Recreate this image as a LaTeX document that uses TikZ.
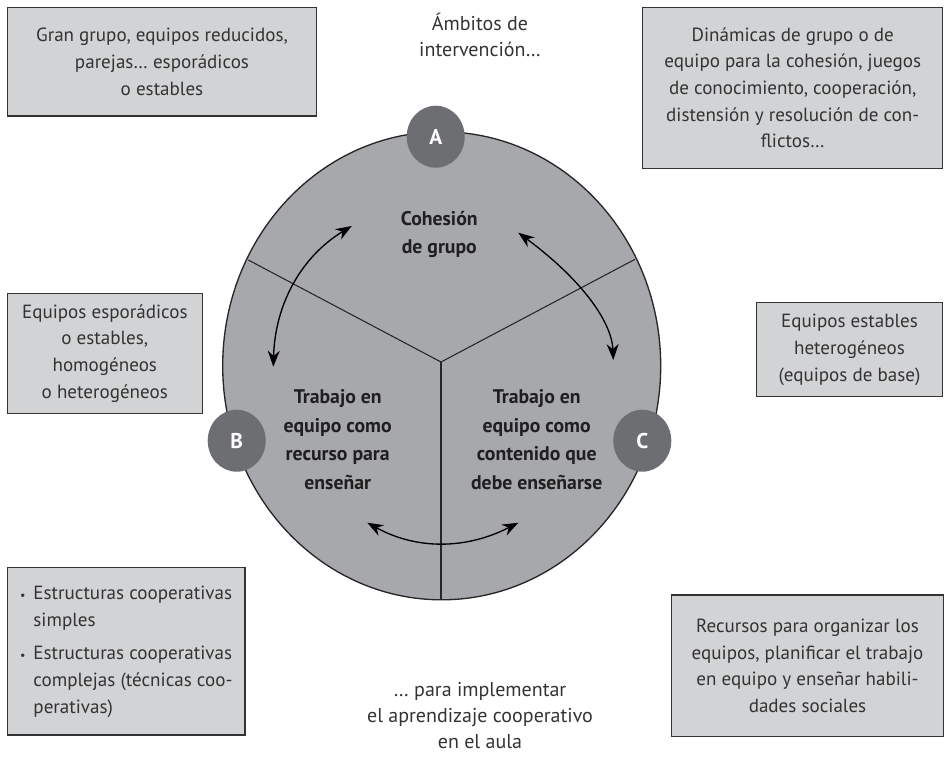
\documentclass[tikz,border=0pt]{standalone}
\usepackage{fontspec}
\setmainfont{PT Sans}
\usetikzlibrary{shapes.geometric, arrows.meta, positioning}
\definecolor{boxgray}{RGB}{210,211,213}
\definecolor{wheelgray}{RGB}{167,168,171}
\definecolor{dotgray}{RGB}{109,110,114}
\definecolor{inkgray}{RGB}{51,51,51}
\tikzset{
    infobox/.style={
        draw=inkgray, line width=0.9pt, rectangle, fill=boxgray, align=center, text=inkgray, inner sep=0pt, font=\fontsize{14.3}{20}\selectfont
    },
    letter/.style={
        ellipse, fill=dotgray, text=white, inner sep=0pt, minimum width=43.5pt, minimum height=46.5pt, font=\bfseries\fontsize{16}{18}\selectfont
    },
    sector/.style={
        align=center, text=black!88, font=\bfseries\fontsize{14.8}{21.3}\selectfont
    },
    caption/.style={
        align=center, text=inkgray, font=\fontsize{15}{19.5}\selectfont
    },
    wheel/.style={
        draw=black!85, line width=1pt, fill=wheelgray
    },
    divider/.style={
        draw=black!85, line width=0.8pt
    },
    arrow/.style={
        line width=1pt, {Stealth[length=12pt,width=9pt]}-{Stealth[length=12pt,width=9pt]}
    }
}

\begin{document}
\begin{tikzpicture}[x=0.75pt, y=-0.75pt]
    \useasboundingbox (0,0) rectangle (945,769);

    % wheel
    \draw[wheel] (441.7,365.8) ellipse [x radius=219, y radius=234];
    \coordinate (hub) at (441,362);
    \coordinate (rimL) at (248.3,260);
    \coordinate (rimR) at (635,259.3);
    \coordinate (rimD) at (441,600);
    \draw[divider] (rimL) -- (hub) -- (rimR);
    \draw[divider] (hub) -- (rimD);

    % letters
    \node (A) [letter] at (435.7,136.7) {A};
    \node (B) [letter] at (236.7,440.7) {B};
    \node (C) [letter] at (642.3,440.7) {C};

    % sectors
    \node (cohesion) [sector] at (439.3,234.2) {Cohesión\\de grupo};
    \node (recurso) [sector] at (337.7,439.7) {Trabajo en\\equipo como\\recurso para\\enseñar};
    \node (contenido) [sector] at (536.7,439.7) {Trabajo en\\equipo como\\contenido que\\debe enseñarse};

    % boxes
    \node (grupos) [infobox, minimum width=232pt, minimum height=81.5pt] at (162,61.7)
        {Gran grupo, equipos reducidos,\\parejas… esporádicos\\o estables};
    \node (dinamicas) [infobox, minimum width=225pt, minimum height=120.75pt] at (792.7,87.8)
        {Dinámicas de grupo o de\\equipo para la cohesión, juegos\\de conocimiento, cooperación,\\distensión y resolución de con-\\flictos…};
    \node (esporadicos) [infobox, minimum width=146.25pt, minimum height=90pt] at (104.8,353.3)
        {Equipos esporádicos\\o estables,\\homogéneos\\o heterogéneos};
    \node (estables) [infobox, minimum width=140pt, minimum height=70.5pt] at (849.5,349.7)
        {Equipos estables\\heterogéneos\\(equipos de base)};
    \node (estructuras) [infobox, minimum width=178.3pt, minimum height=125.8pt] at (126.2,651.2)
        {\begin{tabular}{@{}l@{\hspace{6pt}}l@{}}
            {\small\textbullet} & Estructuras cooperativas\\
            & simples\\[5pt]
            {\small\textbullet} & Estructuras cooperativas\\
            & complejas (técnicas coo-\\
            & perativas)
        \end{tabular}};
    \node (recursos) [infobox, minimum width=204pt, minimum height=106.3pt] at (807.5,665.8)
        {Recursos para organizar los\\equipos, planificar el trabajo\\en equipo y enseñar habili-\\dades sociales};

    % captions
    \node (ambitos) [caption] at (480,35) {Ámbitos de\\intervención…};
    \node (implementar) [caption] at (480,716) {… para implementar\\el aprendizaje cooperativo\\en el aula};

    % arrows
    \coordinate (lB) at (273.3,366.7);
    \coordinate (lA) at (351.7,226);
    \coordinate (rA) at (518.3,232.7);
    \coordinate (rC) at (613.3,360);
    \coordinate (dB) at (367.3,522.7);
    \coordinate (dC) at (518.3,522.7);
    \draw[arrow] (lB) .. controls (275,304) and (301.3,256.7) .. (lA);
    \draw[arrow] (rA) .. controls (580,278.3) and (611.7,320.7) .. (rC);
    \draw[arrow] (dB) .. controls (416.3,549.7) and (465.7,549.7) .. (dC);

\end{tikzpicture}
\end{document}
